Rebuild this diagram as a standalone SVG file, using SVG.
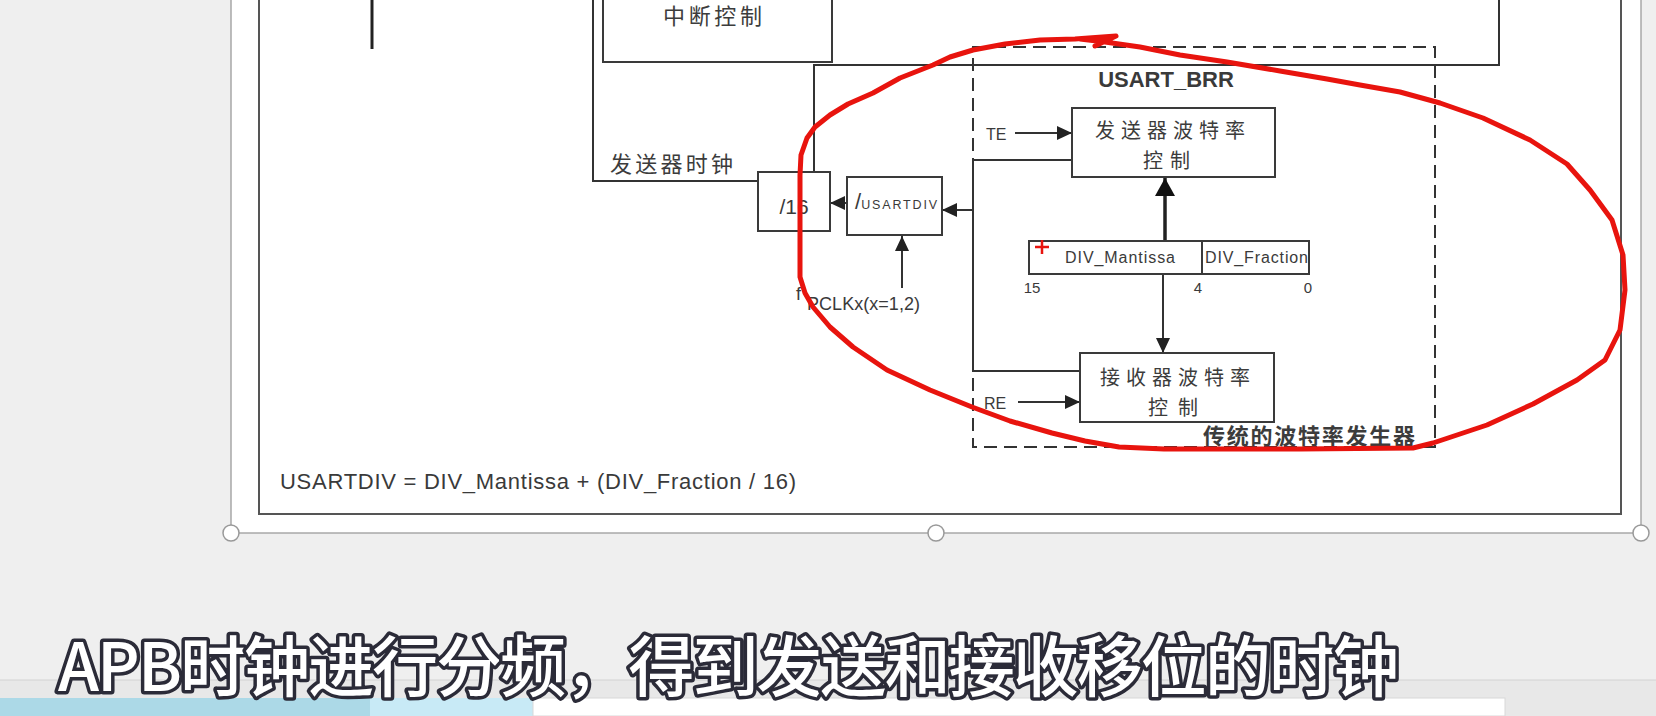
<svg xmlns="http://www.w3.org/2000/svg" width="1656" height="716" viewBox="0 0 1656 716">
<defs>
<style>
.box{fill:#fff;stroke:#3a3a3a;stroke-width:2}
.ln{fill:none;stroke:#333;stroke-width:2}
.thick{fill:none;stroke:#222;stroke-width:3.5}
.cn{font-family:"Noto Sans CJK SC","Noto Sans",sans-serif;fill:#3c3c3c;font-size:22px}
.cn2{font-family:"Noto Sans CJK SC","Noto Sans",sans-serif;fill:#3c3c3c;font-size:20px}
.lat{font-family:"Liberation Sans",Arial,sans-serif;fill:#3a3a3a}
.dash{fill:none;stroke:#333;stroke-width:2;stroke-dasharray:13 7}
</style>
<marker id="ah" markerUnits="userSpaceOnUse" markerWidth="15" markerHeight="14" refX="15" refY="7" orient="auto"><path d="M0,0 L15,7 L0,14 z" fill="#222"/></marker>
<marker id="ahL" markerUnits="userSpaceOnUse" markerWidth="18" markerHeight="20" refX="18" refY="10" orient="auto"><path d="M0,0 L18,10 L0,20 z" fill="#111"/></marker>
</defs>
<rect x="0" y="0" width="1656" height="680" fill="#efefef"/>
<rect x="0" y="680" width="1656" height="36" fill="#e8e8e8"/>
<line x1="0" y1="680" x2="1656" y2="680" stroke="#d2d2d2" stroke-width="1"/>
<rect x="0" y="698" width="370" height="18" fill="#acd9e7"/>
<rect x="370" y="698" width="163" height="18" fill="#c8eaf6"/>
<rect x="533" y="698" width="972" height="18" fill="#ffffff" stroke="#d8d8d8" stroke-width="1"/>
<g id="slide">
<rect x="231" y="-5" width="1410" height="538" fill="#fff" stroke="#a8a8a8" stroke-width="1.5"/>
<rect x="259" y="-5" width="1362" height="519" fill="#fff" stroke="#555" stroke-width="2"/>
<circle cx="231" cy="533" r="8" fill="#fff" stroke="#999" stroke-width="1.5"/>
<circle cx="936" cy="533" r="8" fill="#fff" stroke="#999" stroke-width="1.5"/>
<circle cx="1641" cy="533" r="8" fill="#fff" stroke="#999" stroke-width="1.5"/>
</g>
<g id="brr-frame">
<rect class="dash" x="973" y="47" width="462" height="400"/>
<text class="lat" x="1166" y="87" font-size="22" font-weight="bold" text-anchor="middle" fill="#2a2a2a">USART_BRR</text>
<text class="cn" x="1203" y="444" font-size="21" textLength="212" font-weight="600" fill="#333">传统的波特率发生器</text>
</g>
<g id="connectors">
<line x1="372" y1="0" x2="372" y2="49" stroke="#222" stroke-width="3"/>
<path class="ln" d="M593,-5 V181 H758"/>
<path class="ln" d="M814,172 V65 H1499 V-5"/>
<path class="ln" d="M1072,160 H973 V371 H1080"/>
<line class="ln" x1="847" y1="203" x2="830" y2="203" marker-end="url(#ah)"/>
<line class="ln" x1="973" y1="210" x2="942" y2="210" marker-end="url(#ah)"/>
<line class="ln" x1="902" y1="288" x2="902" y2="236" marker-end="url(#ah)"/>
<line class="ln" x1="1015" y1="133" x2="1072" y2="133" marker-end="url(#ah)"/>
<line class="ln" x1="1018" y1="402" x2="1080" y2="402" marker-end="url(#ah)"/>
<line class="thick" x1="1165" y1="241" x2="1165" y2="178" marker-end="url(#ahL)"/>
<line class="ln" x1="1163" y1="274" x2="1163" y2="353" marker-end="url(#ah)"/>
</g>
<g id="int-ctrl">
<rect class="box" x="603" y="-5" width="229" height="67"/>
<text class="cn" x="663" y="24" textLength="99">中断控制</text>
</g>
<g id="tx-clock-label">
<text class="cn" x="610" y="172" textLength="123">发送器时钟</text>
</g>
<g id="div16">
<rect class="box" x="758" y="172" width="72" height="59"/>
<text class="lat" x="794" y="214" font-size="21" text-anchor="middle" fill="#555">/16</text>
</g>
<g id="usartdiv">
<rect class="box" x="847" y="177" width="95" height="58"/>
<text class="lat" x="855" y="209" fill="#444"><tspan font-size="22">/</tspan><tspan font-size="12.5" textLength="76">USARTDIV</tspan></text>
</g>
<g id="fpclk">
<text class="lat" x="796" y="300" font-size="18" fill="#444">f<tspan x="807" y="310" textLength="113">PCLKx(x=1,2)</tspan></text>
</g>
<g id="te"><text class="lat" x="986" y="140" font-size="16" fill="#444">TE</text></g>
<g id="re"><text class="lat" x="984" y="409" font-size="16" fill="#444">RE</text></g>
<g id="tx-baud">
<rect class="box" x="1072" y="108" width="203" height="69"/>
<text class="cn2"><tspan x="1095" y="138" textLength="150">发送器波特率</tspan><tspan x="1143" y="168" textLength="47">控制</tspan></text>
</g>
<g id="brr-reg">
<rect class="box" x="1029" y="241" width="280" height="33"/>
<line x1="1202" y1="241" x2="1202" y2="274" stroke="#3a3a3a" stroke-width="2"/>
<text class="lat" x="1065" y="263" font-size="16" textLength="110" fill="#444">DIV_Mantissa</text>
<text class="lat" x="1205" y="263" font-size="16" textLength="103" fill="#444">DIV_Fraction</text>
<text class="lat" x="1032" y="293" font-size="15" text-anchor="middle" fill="#444">15</text>
<text class="lat" x="1198" y="293" font-size="15" text-anchor="middle" fill="#444">4</text>
<text class="lat" x="1308" y="293" font-size="15" text-anchor="middle" fill="#444">0</text>
</g>
<g id="rx-baud">
<rect class="box" x="1080" y="353" width="194" height="69"/>
<text class="cn2"><tspan x="1100" y="385" textLength="150">接收器波特率</tspan><tspan x="1148" y="415" textLength="50">控制</tspan></text>
</g>
<g id="formula">
<text class="lat" x="280" y="489" font-size="22" textLength="516" fill="#333">USARTDIV = DIV_Mantissa + (DIV_Fraction / 16)</text>
</g>
<g id="annotation">
<polyline fill="none" stroke="#e8140e" stroke-width="5" stroke-linejoin="round" stroke-linecap="round" points="1095,46 1116,36 1075,39 1040,40 1005,44 973,50 950,57 933,65 900,78 873,93 848,104 830,115 815,127 807,138 801,155 800,175 800,240 800,277 805,293 813,307 830,327 853,347 887,370 930,390 972,407 1010,421 1052,433 1085,441 1119,447 1164,449 1300,449 1413,448 1433,443 1487,425 1533,404 1577,380 1605,360 1620,330 1625,290 1623,255 1612,220 1590,190 1567,164 1530,140 1483,118 1440,103 1400,92 1360,85 1327,79 1280,71 1227,62 1180,55 1140,47 1105,42 1080,39"/>
<path d="M1042,240 V254 M1035,247 H1049" stroke="#e8140e" stroke-width="2.5" fill="none"/>
</g>
<g id="subtitle">
<text x="58" y="691" font-family="'Noto Sans CJK SC','Noto Sans',sans-serif" font-size="66" font-weight="500" textLength="1341" fill="#ffffff" stroke="#2b2b38" stroke-width="7" stroke-linejoin="round" paint-order="stroke">APB时钟进行分频，得到发送和接收移位的时钟</text>
</g>
</svg>
